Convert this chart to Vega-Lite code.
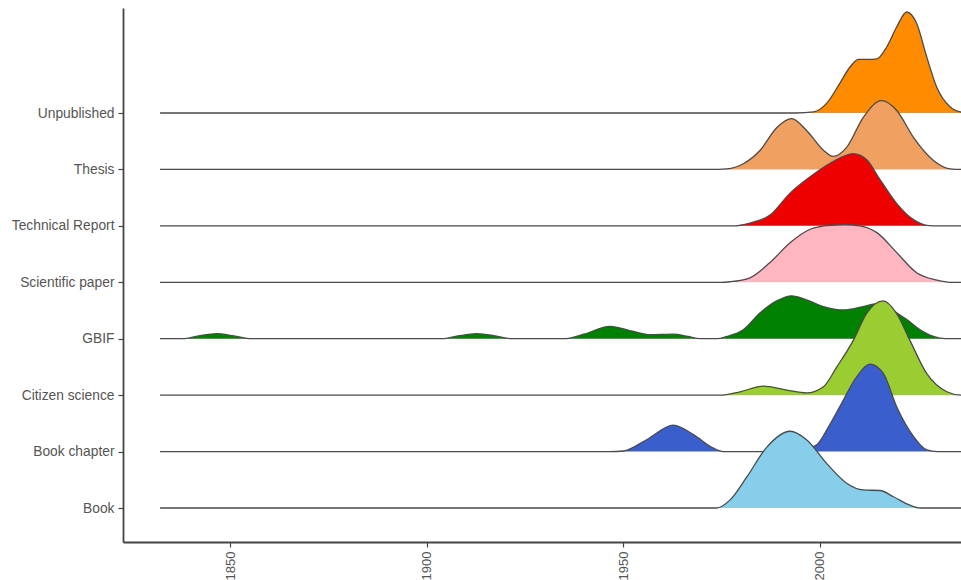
{
  "$schema": "https://vega.github.io/schema/vega-lite/v6.json",
  "width": 838,
  "height": 534,
  "autosize": {"type": "none"},
  "padding": {"left": 123, "top": 8, "right": 0, "bottom": 38},
  "background": "white",
  "config": {
    "view": {"stroke": null},
    "axis": {
      "grid": false,
      "title": null,
      "domainColor": "#444444",
      "domainWidth": 1.8,
      "tickColor": "#444444",
      "tickWidth": 1.2,
      "tickSize": 5,
      "labelFont": "Liberation Sans",
      "labelFontSize": 13.8,
      "labelColor": "#555555",
      "labelPadding": 4
    }
  },
  "data": {
    "values": [
      {"t": "Unpublished", "year": 1832.2, "d": 0},
      {"t": "Unpublished", "year": 1994, "d": 0},
      {"t": "Unpublished", "year": 1998.5, "d": 0.02},
      {"t": "Unpublished", "year": 2001.8, "d": 0.17},
      {"t": "Unpublished", "year": 2005.2, "d": 0.53},
      {"t": "Unpublished", "year": 2007.8, "d": 0.82},
      {"t": "Unpublished", "year": 2009.9, "d": 0.95},
      {"t": "Unpublished", "year": 2012.3, "d": 0.95},
      {"t": "Unpublished", "year": 2014.6, "d": 0.96},
      {"t": "Unpublished", "year": 2017.1, "d": 1.17},
      {"t": "Unpublished", "year": 2019.6, "d": 1.52},
      {"t": "Unpublished", "year": 2022.2, "d": 1.79},
      {"t": "Unpublished", "year": 2024.7, "d": 1.59},
      {"t": "Unpublished", "year": 2027.3, "d": 0.99},
      {"t": "Unpublished", "year": 2029.8, "d": 0.46},
      {"t": "Unpublished", "year": 2033.2, "d": 0.11},
      {"t": "Unpublished", "year": 2035.8, "d": 0.02},
      {"t": "Unpublished", "year": 2040, "d": 0},

      {"t": "Thesis", "year": 1832.2, "d": 0},
      {"t": "Thesis", "year": 1972, "d": 0},
      {"t": "Thesis", "year": 1976.4, "d": 0.01},
      {"t": "Thesis", "year": 1980.6, "d": 0.1},
      {"t": "Thesis", "year": 1984.9, "d": 0.34},
      {"t": "Thesis", "year": 1989.1, "d": 0.74},
      {"t": "Thesis", "year": 1992.9, "d": 0.9},
      {"t": "Thesis", "year": 1996.7, "d": 0.69},
      {"t": "Thesis", "year": 2001.0, "d": 0.34},
      {"t": "Thesis", "year": 2003.5, "d": 0.23},
      {"t": "Thesis", "year": 2006.9, "d": 0.39},
      {"t": "Thesis", "year": 2011.1, "d": 0.92},
      {"t": "Thesis", "year": 2015.8, "d": 1.22},
      {"t": "Thesis", "year": 2019.6, "d": 1.05},
      {"t": "Thesis", "year": 2023.9, "d": 0.57},
      {"t": "Thesis", "year": 2029.0, "d": 0.16},
      {"t": "Thesis", "year": 2033.2, "d": 0.01},
      {"t": "Thesis", "year": 2036, "d": 0},
      {"t": "Thesis", "year": 2040, "d": 0},

      {"t": "Technical Report", "year": 1832.2, "d": 0},
      {"t": "Technical Report", "year": 1978, "d": 0},
      {"t": "Technical Report", "year": 1982.3, "d": 0.05},
      {"t": "Technical Report", "year": 1987.4, "d": 0.19},
      {"t": "Technical Report", "year": 1992.5, "d": 0.58},
      {"t": "Technical Report", "year": 1997.6, "d": 0.87},
      {"t": "Technical Report", "year": 2002.7, "d": 1.11},
      {"t": "Technical Report", "year": 2008.6, "d": 1.28},
      {"t": "Technical Report", "year": 2012.0, "d": 1.17},
      {"t": "Technical Report", "year": 2015.4, "d": 0.82},
      {"t": "Technical Report", "year": 2019.6, "d": 0.4},
      {"t": "Technical Report", "year": 2023.9, "d": 0.11},
      {"t": "Technical Report", "year": 2027.3, "d": 0.01},
      {"t": "Technical Report", "year": 2030, "d": 0},
      {"t": "Technical Report", "year": 2040, "d": 0},

      {"t": "Scientific paper", "year": 1832.2, "d": 0},
      {"t": "Scientific paper", "year": 1975, "d": 0},
      {"t": "Scientific paper", "year": 1977.2, "d": 0.01},
      {"t": "Scientific paper", "year": 1982.3, "d": 0.08},
      {"t": "Scientific paper", "year": 1987.4, "d": 0.35},
      {"t": "Scientific paper", "year": 1992.5, "d": 0.7},
      {"t": "Scientific paper", "year": 1997.6, "d": 0.94},
      {"t": "Scientific paper", "year": 2002.7, "d": 1.01},
      {"t": "Scientific paper", "year": 2006.5, "d": 1.02},
      {"t": "Scientific paper", "year": 2010.3, "d": 1.0},
      {"t": "Scientific paper", "year": 2014.6, "d": 0.88},
      {"t": "Scientific paper", "year": 2019.6, "d": 0.53},
      {"t": "Scientific paper", "year": 2024.7, "d": 0.17},
      {"t": "Scientific paper", "year": 2029.8, "d": 0.04},
      {"t": "Scientific paper", "year": 2033.2, "d": 0},
      {"t": "Scientific paper", "year": 2040, "d": 0},

      {"t": "GBIF", "year": 1832.2, "d": 0},
      {"t": "GBIF", "year": 1838, "d": 0},
      {"t": "GBIF", "year": 1842, "d": 0.05},
      {"t": "GBIF", "year": 1846.6, "d": 0.09},
      {"t": "GBIF", "year": 1851, "d": 0.05},
      {"t": "GBIF", "year": 1855.5, "d": 0},
      {"t": "GBIF", "year": 1904, "d": 0},
      {"t": "GBIF", "year": 1908, "d": 0.05},
      {"t": "GBIF", "year": 1912.8, "d": 0.09},
      {"t": "GBIF", "year": 1917.5, "d": 0.05},
      {"t": "GBIF", "year": 1921.5, "d": 0},
      {"t": "GBIF", "year": 1935, "d": 0},
      {"t": "GBIF", "year": 1940, "d": 0.08},
      {"t": "GBIF", "year": 1946.7, "d": 0.22},
      {"t": "GBIF", "year": 1952, "d": 0.14},
      {"t": "GBIF", "year": 1957, "d": 0.07},
      {"t": "GBIF", "year": 1962.8, "d": 0.08},
      {"t": "GBIF", "year": 1966.5, "d": 0.04},
      {"t": "GBIF", "year": 1969.6, "d": 0},
      {"t": "GBIF", "year": 1974, "d": 0},
      {"t": "GBIF", "year": 1976.4, "d": 0.04},
      {"t": "GBIF", "year": 1980.6, "d": 0.16},
      {"t": "GBIF", "year": 1984.9, "d": 0.46},
      {"t": "GBIF", "year": 1989.1, "d": 0.67},
      {"t": "GBIF", "year": 1992.9, "d": 0.76},
      {"t": "GBIF", "year": 1996.7, "d": 0.69},
      {"t": "GBIF", "year": 2001.0, "d": 0.57},
      {"t": "GBIF", "year": 2006.1, "d": 0.51},
      {"t": "GBIF", "year": 2011.1, "d": 0.57},
      {"t": "GBIF", "year": 2014.6, "d": 0.62},
      {"t": "GBIF", "year": 2017.5, "d": 0.56},
      {"t": "GBIF", "year": 2020, "d": 0.44},
      {"t": "GBIF", "year": 2022.2, "d": 0.34},
      {"t": "GBIF", "year": 2025.6, "d": 0.16},
      {"t": "GBIF", "year": 2029.0, "d": 0.04},
      {"t": "GBIF", "year": 2032, "d": 0},
      {"t": "GBIF", "year": 2040, "d": 0},

      {"t": "Citizen science", "year": 1832.2, "d": 0},
      {"t": "Citizen science", "year": 1974.7, "d": 0},
      {"t": "Citizen science", "year": 1979.8, "d": 0.06},
      {"t": "Citizen science", "year": 1985.7, "d": 0.16},
      {"t": "Citizen science", "year": 1991.7, "d": 0.09},
      {"t": "Citizen science", "year": 1996.7, "d": 0.04},
      {"t": "Citizen science", "year": 2001.0, "d": 0.15},
      {"t": "Citizen science", "year": 2004.4, "d": 0.5},
      {"t": "Citizen science", "year": 2008.6, "d": 0.97},
      {"t": "Citizen science", "year": 2012.0, "d": 1.45},
      {"t": "Citizen science", "year": 2016.2, "d": 1.67},
      {"t": "Citizen science", "year": 2019.6, "d": 1.45},
      {"t": "Citizen science", "year": 2023.0, "d": 0.97},
      {"t": "Citizen science", "year": 2027.3, "d": 0.38},
      {"t": "Citizen science", "year": 2032.4, "d": 0.06},
      {"t": "Citizen science", "year": 2036, "d": 0},
      {"t": "Citizen science", "year": 2040, "d": 0},

      {"t": "Book chapter", "year": 1832.2, "d": 0},
      {"t": "Book chapter", "year": 1946.7, "d": 0},
      {"t": "Book chapter", "year": 1950.1, "d": 0.01},
      {"t": "Book chapter", "year": 1956.0, "d": 0.21},
      {"t": "Book chapter", "year": 1962.8, "d": 0.47},
      {"t": "Book chapter", "year": 1967.9, "d": 0.3},
      {"t": "Book chapter", "year": 1973.0, "d": 0.06},
      {"t": "Book chapter", "year": 1975.5, "d": 0},
      {"t": "Book chapter", "year": 1988, "d": 0},
      {"t": "Book chapter", "year": 1993, "d": 0.02},
      {"t": "Book chapter", "year": 1996.5, "d": 0.05},
      {"t": "Book chapter", "year": 1999.3, "d": 0.12},
      {"t": "Book chapter", "year": 2002.3, "d": 0.44},
      {"t": "Book chapter", "year": 2005.2, "d": 0.8},
      {"t": "Book chapter", "year": 2009.5, "d": 1.33},
      {"t": "Book chapter", "year": 2012.8, "d": 1.55},
      {"t": "Book chapter", "year": 2016.2, "d": 1.39},
      {"t": "Book chapter", "year": 2019.6, "d": 0.8},
      {"t": "Book chapter", "year": 2023.9, "d": 0.27},
      {"t": "Book chapter", "year": 2027.3, "d": 0.03},
      {"t": "Book chapter", "year": 2030, "d": 0},
      {"t": "Book chapter", "year": 2040, "d": 0},

      {"t": "Book", "year": 1832.2, "d": 0},
      {"t": "Book", "year": 1973.8, "d": 0},
      {"t": "Book", "year": 1977.2, "d": 0.14},
      {"t": "Book", "year": 1981.5, "d": 0.55},
      {"t": "Book", "year": 1986.6, "d": 1.08},
      {"t": "Book", "year": 1992.5, "d": 1.36},
      {"t": "Book", "year": 1996.7, "d": 1.21},
      {"t": "Book", "year": 2001.8, "d": 0.79},
      {"t": "Book", "year": 2006.9, "d": 0.44},
      {"t": "Book", "year": 2011.1, "d": 0.32},
      {"t": "Book", "year": 2015.4, "d": 0.31},
      {"t": "Book", "year": 2018.8, "d": 0.2},
      {"t": "Book", "year": 2023.0, "d": 0.05},
      {"t": "Book", "year": 2025.6, "d": 0},
      {"t": "Book", "year": 2040, "d": 0}
    ]
  },
  "transform": [
    {"calculate": "indexof(['Book','Book chapter','Citizen science','GBIF','Scientific paper','Technical Report','Thesis','Unpublished'], datum.t) + 1", "as": "k"},
    {"calculate": "datum.k + datum.d", "as": "top"}
  ],
  "encoding": {
    "x": {
      "field": "year",
      "type": "quantitative",
      "scale": {"domain": [1822.77, 2036], "nice": false, "zero": false},
      "axis": {"values": [1850, 1900, 1950, 2000], "format": "d", "labelAngle": 270, "labelPadding": 4, "labelFontSize": 13}
    },
    "y": {
      "field": "top",
      "type": "quantitative",
      "scale": {"domain": [0.3975, 9.861], "nice": false, "zero": false},
      "axis": {
        "values": [1, 2, 3, 4, 5, 6, 7, 8],
        "labelExpr": "['', 'Book', 'Book chapter', 'Citizen science', 'GBIF', 'Scientific paper', 'Technical Report', 'Thesis', 'Unpublished'][datum.value]"
      }
    },
    "y2": {"field": "k"}
  },
  "layer": [
    {"transform": [{"filter": "datum.t === 'Unpublished'"}], "mark": {"type": "area", "color": "#FF8C00", "opacity": 1, "interpolate": "monotone", "clip": true, "line": {"color": "#4a4a4a", "strokeWidth": 1.3, "interpolate": "monotone"}}},
    {"transform": [{"filter": "datum.t === 'Thesis'"}], "mark": {"type": "area", "color": "#F0A060", "opacity": 1, "interpolate": "monotone", "clip": true, "line": {"color": "#4a4a4a", "strokeWidth": 1.3, "interpolate": "monotone"}}},
    {"transform": [{"filter": "datum.t === 'Technical Report'"}], "mark": {"type": "area", "color": "#EE0000", "opacity": 1, "interpolate": "monotone", "clip": true, "line": {"color": "#4a4a4a", "strokeWidth": 1.3, "interpolate": "monotone"}}},
    {"transform": [{"filter": "datum.t === 'Scientific paper'"}], "mark": {"type": "area", "color": "#FFB6C1", "opacity": 1, "interpolate": "monotone", "clip": true, "line": {"color": "#4a4a4a", "strokeWidth": 1.3, "interpolate": "monotone"}}},
    {"transform": [{"filter": "datum.t === 'GBIF'"}], "mark": {"type": "area", "color": "#008000", "opacity": 1, "interpolate": "monotone", "clip": true, "line": {"color": "#4a4a4a", "strokeWidth": 1.3, "interpolate": "monotone"}}},
    {"transform": [{"filter": "datum.t === 'Citizen science'"}], "mark": {"type": "area", "color": "#9ACD32", "opacity": 1, "interpolate": "monotone", "clip": true, "line": {"color": "#4a4a4a", "strokeWidth": 1.3, "interpolate": "monotone"}}},
    {"transform": [{"filter": "datum.t === 'Book chapter'"}], "mark": {"type": "area", "color": "#3A5FCD", "opacity": 1, "interpolate": "monotone", "clip": true, "line": {"color": "#4a4a4a", "strokeWidth": 1.3, "interpolate": "monotone"}}},
    {"transform": [{"filter": "datum.t === 'Book'"}], "mark": {"type": "area", "color": "#87CEEB", "opacity": 1, "interpolate": "monotone", "clip": true, "line": {"color": "#4a4a4a", "strokeWidth": 1.3, "interpolate": "monotone"}}}
  ]
}
